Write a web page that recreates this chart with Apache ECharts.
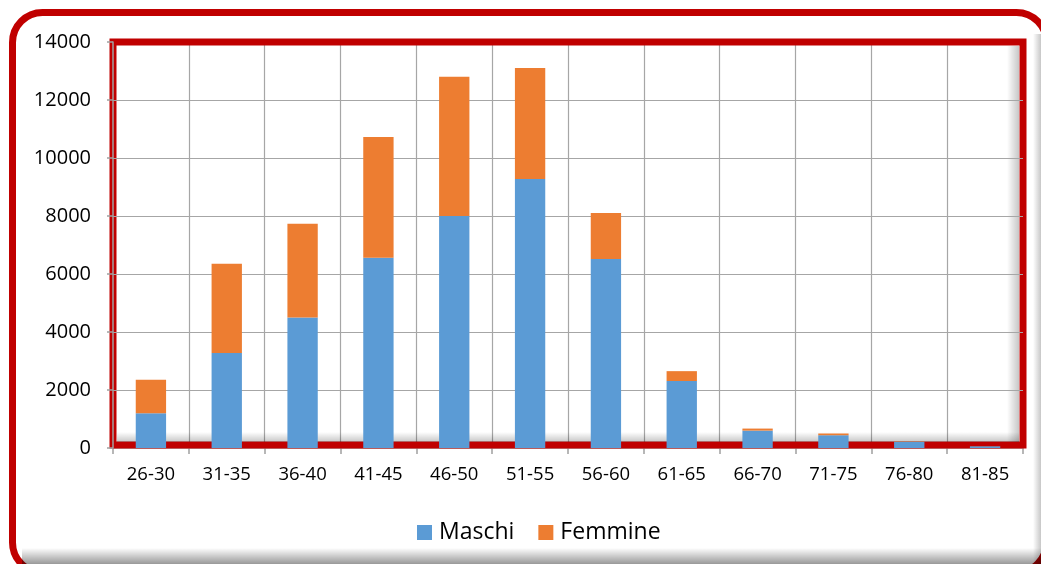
<!DOCTYPE html>
<html>
<head>
<meta charset="utf-8">
<title>Distribuzione per età</title>
<script src="https://cdn.jsdelivr.net/npm/echarts@6/dist/echarts.min.js"></script>
<style>
  html, body { margin: 0; padding: 0; background: #ffffff; overflow: hidden; }
  #chart { width: 1041px; height: 564px; }
</style>
</head>
<body>
<div id="chart"></div>
<script>
// Age bands on the horizontal axis
const ageBands = ['26-30', '31-35', '36-40', '41-45', '46-50', '51-55', '56-60', '61-65', '66-70', '71-75', '76-80', '81-85'];
// Headcount per band, men (lower segment) and women (upper segment)
const maschi   = [1200, 3280, 4500, 6560, 8000, 9280, 6520, 2310, 600, 440, 220, 60];
const femmine  = [1150, 3070, 3230, 4160, 4800, 3820, 1580, 340,  70,  60,  15,  5];
// Value axis ticks
const yTicks = [0, 2000, 4000, 6000, 8000, 10000, 12000, 14000];

const FONT = '"Open Sans", "Noto Sans", sans-serif';
const GRID = { left: 113, right: 18, top: 42, bottom: 116 };
const W = 1041, H = 564;

const chart = echarts.init(document.getElementById('chart'), null, { renderer: 'canvas' });

function hShade(x, y, w, h, a, z) {
  return {
    type: 'rect', silent: true, z: z,
    x: x, y: y,
    shape: { x: 0, y: 0, width: w, height: h },
    style: {
      fill: new echarts.graphic.LinearGradient(0, 0, 1, 0, [
        { offset: 0, color: 'rgba(0,0,0,0)' },
        { offset: 1, color: 'rgba(0,0,0,' + a + ')' }
      ])
    }
  };
}
function vShade(x, y, w, h, a, z) {
  return {
    type: 'rect', silent: true, z: z,
    x: x, y: y,
    shape: { x: 0, y: 0, width: w, height: h },
    style: {
      fill: new echarts.graphic.LinearGradient(0, 0, 0, 1, [
        { offset: 0, color: 'rgba(0,0,0,0)' },
        { offset: 1, color: 'rgba(0,0,0,' + a + ')' }
      ])
    }
  };
}

const plotRight = W - GRID.right;
const plotBottom = H - GRID.bottom;

chart.setOption({
  animation: false,
  backgroundColor: '#ffffff',
  textStyle: { fontFamily: FONT, color: '#000000' },
  grid: {
    left: GRID.left, right: GRID.right, top: GRID.top, bottom: GRID.bottom,
    show: false
  },
  legend: {
    data: ['Maschi', 'Femmine'],
    left: 412,
    top: 516,
    itemWidth: 15,
    itemHeight: 15,
    itemGap: 24,
    icon: 'rect',
    textStyle: { fontFamily: FONT, fontSize: 23, color: '#000000', padding: [0, 0, 0, 2] }
  },
  xAxis: {
    type: 'category',
    data: ageBands,
    boundaryGap: true,
    z: 0,
    axisLine: { show: true, lineStyle: { color: '#A0A0A0', width: 1.5 } },
    axisTick: { show: true, length: 6, lineStyle: { color: '#A0A0A0', width: 1.5 } },
    splitLine: { show: true, lineStyle: { color: '#A6A6A6', width: 1.2 } },
    axisLabel: { fontFamily: FONT, fontSize: 18.5, color: '#000000', margin: 17 }
  },
  yAxis: {
    type: 'value',
    min: yTicks[0],
    max: yTicks[yTicks.length - 1],
    interval: yTicks[1] - yTicks[0],
    z: 2,
    axisLine: { show: true, lineStyle: { color: '#A0A0A0', width: 1.5 } },
    axisTick: { show: true, length: 6, lineStyle: { color: '#A0A0A0', width: 1.5 } },
    splitLine: {
      show: true, showMinLine: false, showMaxLine: false,
      lineStyle: { color: '#A6A6A6', width: 1.2 }
    },
    axisLabel: {
      fontFamily: FONT, fontSize: 20, color: '#000000', margin: 22,
      formatter: function (v) { return String(v); }
    }
  },
  series: [
    {
      name: 'Maschi',
      type: 'bar',
      stack: 'totale',
      data: maschi,
      barWidth: '40%',
      itemStyle: { color: '#5B9BD5' },
      z: 3
    },
    {
      name: 'Femmine',
      type: 'bar',
      stack: 'totale',
      data: femmine,
      barWidth: '40%',
      itemStyle: { color: '#ED7D31' },
      z: 3
    }
  ],
  graphic: [
    // outer rounded card frame (right and bottom sides run past the canvas)
    {
      type: 'rect', silent: true, z: -10,
      x: 12.5, y: 12.5,
      shape: { x: 0, y: 0, width: 1034, height: 560, r: 30 },
      style: { fill: '#ffffff', stroke: '#C00000', lineWidth: 7 }
    },
    // shade along the bottom and right edges of the card
    vShade(22, 548, W - 22, 16, 0.4, 50),
    hShade(1033, 34, 8, H - 34, 0.22, 50),
    // thick red frame around the plot area
    {
      type: 'rect', silent: true, z: 1,
      x: GRID.left, y: GRID.top,
      shape: { x: 0, y: 0, width: plotRight - GRID.left, height: plotBottom - GRID.top - 3 },
      style: { fill: 'none', stroke: '#C00000', lineWidth: 7 }
    },
    // inner shade along the right and bottom of the plot frame
    hShade(plotRight - 16, GRID.top + 4, 12, plotBottom - GRID.top - 10, 0.22, 1),
    vShade(GRID.left + 4, plotBottom - 16, plotRight - GRID.left - 8, 10, 0.22, 1)
  ]
});
</script>
</body>
</html>
